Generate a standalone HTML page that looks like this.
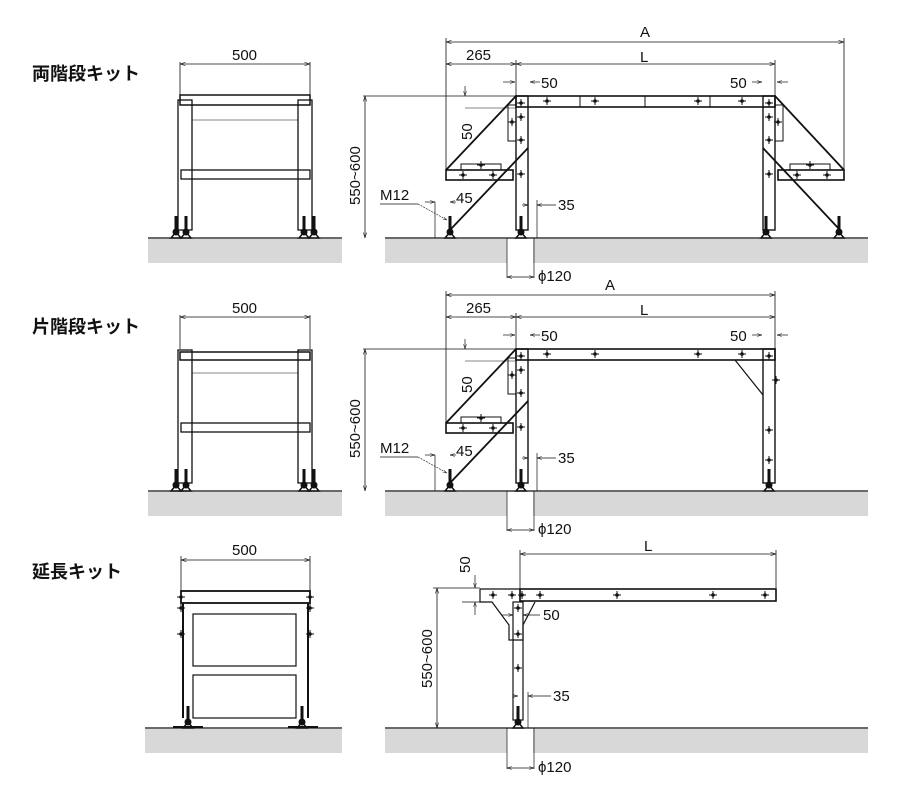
<!DOCTYPE html>
<html><head><meta charset="utf-8"><style>
body{margin:0;background:#fff}
svg{display:block}
text{font-family:"Liberation Sans","Noto Sans CJK JP",sans-serif;font-size:15px;fill:#111}
.j{font-size:18px;font-weight:bold}
</style></head><body>
<svg width="900" height="800" viewBox="0 0 900 800" xmlns="http://www.w3.org/2000/svg">
<defs>
<marker id="a" viewBox="0 0 10 10" refX="10" refY="5" markerWidth="7" markerHeight="7" orient="auto-start-reverse"><path d="M0,2 L10,5 L0,8" fill="none" stroke="#111" stroke-width="1"/></marker>
<g id="foot"><line x1="0" y1="-22" x2="0" y2="-5" stroke="#111" stroke-width="3"/><path d="M-5,0 L0,-6 L5,0 Z" fill="none" stroke="#111" stroke-width="1.5"/><circle cx="0" cy="-6" r="3" fill="#111"/></g>
<g id="bolt"><line x1="-4" y1="0" x2="4" y2="0" stroke="#111"/><line x1="0" y1="-4" x2="0" y2="4" stroke="#111"/><circle r="1.8" fill="#111"/></g>
</defs>
<g stroke="#111" fill="none">

<!-- ===== Section 1 ===== -->
<text class="j" x="32" y="80" stroke="none">両階段キット</text>
<rect x="148" y="239" width="194" height="24" fill="#d8d8d8" stroke="none"/>
<rect x="385" y="239" width="483" height="24" fill="#d8d8d8" stroke="none"/>
<rect x="507" y="239" width="26" height="24" fill="#fff" stroke="none"/>
<line x1="148" y1="238" x2="342" y2="238" stroke-width="1.3"/>
<line x1="385" y1="238" x2="868" y2="238" stroke-width="1.3"/>
<!-- left view -->
<line x1="180" y1="62" x2="180" y2="96" stroke-width=".8"/><line x1="310" y1="62" x2="310" y2="96" stroke-width=".8"/>
<line x1="180" y1="64" x2="310" y2="64" stroke-width=".8" marker-start="url(#a)" marker-end="url(#a)"/>
<text x="232" y="60" stroke="none">500</text>
<rect x="180" y="95" width="130" height="10" stroke-width="1.5"/>
<rect x="178" y="100" width="14" height="130" stroke-width="1.3"/>
<rect x="298" y="100" width="14" height="130" stroke-width="1.3"/>
<rect x="181" y="170" width="129" height="9" stroke-width="1.3"/>
<line x1="192" y1="120" x2="298" y2="120" stroke-width=".6"/>
<use href="#foot" x="176" y="238"/><use href="#foot" x="186" y="238"/><use href="#foot" x="304" y="238"/><use href="#foot" x="314" y="238"/>
<!-- right view -->
<line x1="446" y1="38" x2="446" y2="170" stroke-width=".8"/><line x1="844" y1="38" x2="844" y2="170" stroke-width=".8"/>
<line x1="446" y1="42" x2="844" y2="42" stroke-width=".8" marker-start="url(#a)" marker-end="url(#a)"/>
<text x="640" y="37" stroke="none">A</text>
<line x1="516" y1="60" x2="516" y2="96" stroke-width=".8"/><line x1="775" y1="60" x2="775" y2="96" stroke-width=".8"/>
<line x1="446" y1="64" x2="516" y2="64" stroke-width=".8" marker-start="url(#a)" marker-end="url(#a)"/>
<line x1="516" y1="64" x2="775" y2="64" stroke-width=".8" marker-start="url(#a)" marker-end="url(#a)"/>
<text x="466" y="60" stroke="none">265</text><text x="640" y="62" stroke="none">L</text>
<text x="541" y="88" stroke="none">50</text><text x="730" y="88" stroke="none">50</text>
<line x1="503" y1="82" x2="515" y2="82" stroke-width=".7" marker-end="url(#a)"/><line x1="540" y1="82" x2="530" y2="82" stroke-width=".7" marker-end="url(#a)"/>
<line x1="752" y1="82" x2="762" y2="82" stroke-width=".7" marker-end="url(#a)"/><line x1="788" y1="82" x2="777" y2="82" stroke-width=".7" marker-end="url(#a)"/>
<line x1="363" y1="96" x2="516" y2="96" stroke-width=".8"/>
<line x1="365" y1="96" x2="365" y2="238" stroke-width=".8" marker-start="url(#a)" marker-end="url(#a)"/>
<text transform="translate(360,205) rotate(-90)" stroke="none">550~600</text>
<line x1="465" y1="108" x2="516" y2="108" stroke-width=".6"/>
<line x1="465" y1="86" x2="465" y2="96" stroke-width=".7" marker-end="url(#a)"/>
<text transform="translate(472,140) rotate(-90)" stroke="none">50</text>
<rect x="516" y="96" width="259" height="11" stroke-width="1.6"/>
<line x1="580" y1="96" x2="580" y2="107"/><line x1="645" y1="96" x2="645" y2="107"/><line x1="710" y1="96" x2="710" y2="107"/>
<rect x="516" y="96" width="12" height="134" stroke-width="1.4"/>
<rect x="763" y="96" width="12" height="134" stroke-width="1.4"/>
<rect x="508" y="105" width="8" height="36" stroke-width="1"/><rect x="775" y="105" width="8" height="36" stroke-width="1"/>
<line x1="446" y1="170" x2="516" y2="96" stroke-width="1.8"/><line x1="775" y1="96" x2="844" y2="170" stroke-width="1.8"/>
<rect x="446" y="170" width="67" height="10" stroke-width="1.6"/><rect x="778" y="170" width="66" height="10" stroke-width="1.6"/>
<rect x="461" y="164" width="40" height="6" stroke-width="1"/><rect x="790" y="164" width="40" height="6" stroke-width="1"/>
<line x1="450" y1="230" x2="528" y2="148" stroke-width="1.8"/><line x1="763" y1="148" x2="840" y2="230" stroke-width="1.8"/>
<use href="#foot" x="450" y="238"/><use href="#foot" x="521" y="238"/><use href="#foot" x="766" y="238"/><use href="#foot" x="839" y="238"/>
<text x="380" y="200" stroke="none">M12</text><line x1="380" y1="204" x2="418" y2="204" stroke-width=".7"/><line x1="418" y1="204" x2="447" y2="220" stroke-width=".6" stroke-dasharray="2 1" marker-end="url(#a)"/>
<text x="456" y="203" stroke="none">45</text>
<line x1="435" y1="202" x2="435" y2="238" stroke-width=".7"/>
<line x1="425" y1="202" x2="435" y2="202" stroke-width=".7" marker-end="url(#a)"/><line x1="456" y1="202" x2="450" y2="202" stroke-width=".7" marker-end="url(#a)"/>
<line x1="537" y1="200" x2="537" y2="238" stroke-width=".7"/>
<line x1="522" y1="205" x2="528" y2="205" stroke-width=".7" marker-end="url(#a)"/><line x1="556" y1="205" x2="537" y2="205" stroke-width=".7" marker-end="url(#a)"/>
<text x="558" y="210" stroke="none">35</text>
<line x1="507" y1="238" x2="507" y2="278" stroke-width=".7"/><line x1="534" y1="238" x2="534" y2="278" stroke-width=".7"/>
<line x1="507" y1="277" x2="534" y2="277" stroke-width=".7" marker-start="url(#a)" marker-end="url(#a)"/>
<text x="538" y="281" stroke="none">ϕ120</text>
<g stroke="none"><use href="#bolt" x="521" y="103"/><use href="#bolt" x="521" y="117"/><use href="#bolt" x="521" y="140"/><use href="#bolt" x="521" y="174"/><use href="#bolt" x="769" y="103"/><use href="#bolt" x="769" y="117"/><use href="#bolt" x="769" y="140"/><use href="#bolt" x="769" y="174"/><use href="#bolt" x="512" y="122"/><use href="#bolt" x="778" y="122"/><use href="#bolt" x="481" y="165"/><use href="#bolt" x="810" y="165"/><use href="#bolt" x="463" y="175"/><use href="#bolt" x="493" y="175"/><use href="#bolt" x="797" y="175"/><use href="#bolt" x="827" y="175"/><use href="#bolt" x="547" y="101"/><use href="#bolt" x="595" y="101"/><use href="#bolt" x="698" y="101"/><use href="#bolt" x="742" y="101"/></g>

<!-- ===== Section 2 ===== -->
<text class="j" x="32" y="333" stroke="none">片階段キット</text>
<rect x="148" y="492" width="194" height="24" fill="#d8d8d8" stroke="none"/>
<rect x="385" y="492" width="483" height="24" fill="#d8d8d8" stroke="none"/>
<rect x="507" y="492" width="26" height="24" fill="#fff" stroke="none"/>
<line x1="148" y1="491" x2="342" y2="491" stroke-width="1.3"/>
<line x1="385" y1="491" x2="868" y2="491" stroke-width="1.3"/>
<line x1="180" y1="315" x2="180" y2="349" stroke-width=".8"/><line x1="310" y1="315" x2="310" y2="349" stroke-width=".8"/>
<line x1="180" y1="317" x2="310" y2="317" stroke-width=".8" marker-start="url(#a)" marker-end="url(#a)"/>
<text x="232" y="313" stroke="none">500</text>
<rect x="180" y="352" width="130" height="8" stroke-width="1.5"/>
<rect x="178" y="350" width="14" height="133" stroke-width="1.3"/>
<rect x="298" y="350" width="14" height="133" stroke-width="1.3"/>
<rect x="181" y="423" width="129" height="9" stroke-width="1.3"/>
<line x1="192" y1="373" x2="298" y2="373" stroke-width=".6"/>
<use href="#foot" x="176" y="491"/><use href="#foot" x="186" y="491"/><use href="#foot" x="304" y="491"/><use href="#foot" x="314" y="491"/>
<line x1="446" y1="291" x2="446" y2="423" stroke-width=".8"/><line x1="775" y1="291" x2="775" y2="349" stroke-width=".8"/>
<line x1="446" y1="295" x2="775" y2="295" stroke-width=".8" marker-start="url(#a)" marker-end="url(#a)"/>
<text x="605" y="290" stroke="none">A</text>
<line x1="516" y1="313" x2="516" y2="349" stroke-width=".8"/>
<line x1="446" y1="317" x2="516" y2="317" stroke-width=".8" marker-start="url(#a)" marker-end="url(#a)"/>
<line x1="516" y1="317" x2="775" y2="317" stroke-width=".8" marker-start="url(#a)" marker-end="url(#a)"/>
<text x="466" y="313" stroke="none">265</text><text x="640" y="315" stroke="none">L</text>
<text x="541" y="341" stroke="none">50</text><text x="730" y="341" stroke="none">50</text>
<line x1="503" y1="335" x2="515" y2="335" stroke-width=".7" marker-end="url(#a)"/><line x1="540" y1="335" x2="530" y2="335" stroke-width=".7" marker-end="url(#a)"/>
<line x1="752" y1="335" x2="762" y2="335" stroke-width=".7" marker-end="url(#a)"/><line x1="788" y1="335" x2="777" y2="335" stroke-width=".7" marker-end="url(#a)"/>
<line x1="363" y1="349" x2="516" y2="349" stroke-width=".8"/>
<line x1="365" y1="349" x2="365" y2="491" stroke-width=".8" marker-start="url(#a)" marker-end="url(#a)"/>
<text transform="translate(360,458) rotate(-90)" stroke="none">550~600</text>
<line x1="465" y1="361" x2="516" y2="361" stroke-width=".6"/>
<line x1="465" y1="339" x2="465" y2="349" stroke-width=".7" marker-end="url(#a)"/>
<text transform="translate(472,393) rotate(-90)" stroke="none">50</text>
<rect x="516" y="349" width="259" height="11" stroke-width="1.6"/>
<rect x="516" y="349" width="12" height="134" stroke-width="1.4"/>
<rect x="763" y="349" width="12" height="134" stroke-width="1.4"/>
<line x1="735" y1="360" x2="763" y2="395" stroke-width="1.2"/>
<rect x="508" y="358" width="8" height="36" stroke-width="1"/>
<line x1="446" y1="423" x2="516" y2="349" stroke-width="1.8"/>
<rect x="446" y="423" width="67" height="10" stroke-width="1.6"/>
<rect x="461" y="417" width="40" height="6" stroke-width="1"/>
<line x1="450" y1="483" x2="528" y2="401" stroke-width="1.8"/>
<use href="#foot" x="450" y="491"/><use href="#foot" x="521" y="491"/><use href="#foot" x="769" y="491"/>
<text x="380" y="453" stroke="none">M12</text><line x1="380" y1="457" x2="418" y2="457" stroke-width=".7"/><line x1="418" y1="457" x2="447" y2="473" stroke-width=".6" stroke-dasharray="2 1" marker-end="url(#a)"/>
<text x="456" y="456" stroke="none">45</text>
<line x1="435" y1="455" x2="435" y2="491" stroke-width=".7"/>
<line x1="425" y1="455" x2="435" y2="455" stroke-width=".7" marker-end="url(#a)"/><line x1="456" y1="455" x2="450" y2="455" stroke-width=".7" marker-end="url(#a)"/>
<line x1="537" y1="453" x2="537" y2="491" stroke-width=".7"/>
<line x1="522" y1="458" x2="528" y2="458" stroke-width=".7" marker-end="url(#a)"/><line x1="556" y1="458" x2="537" y2="458" stroke-width=".7" marker-end="url(#a)"/>
<text x="558" y="463" stroke="none">35</text>
<line x1="507" y1="491" x2="507" y2="531" stroke-width=".7"/><line x1="534" y1="491" x2="534" y2="531" stroke-width=".7"/>
<line x1="507" y1="530" x2="534" y2="530" stroke-width=".7" marker-start="url(#a)" marker-end="url(#a)"/>
<text x="538" y="534" stroke="none">ϕ120</text>
<g stroke="none"><use href="#bolt" x="521" y="356"/><use href="#bolt" x="521" y="370"/><use href="#bolt" x="521" y="393"/><use href="#bolt" x="521" y="427"/><use href="#bolt" x="769" y="356"/><use href="#bolt" x="769" y="430"/><use href="#bolt" x="769" y="460"/><use href="#bolt" x="512" y="375"/><use href="#bolt" x="481" y="418"/><use href="#bolt" x="463" y="428"/><use href="#bolt" x="493" y="428"/><use href="#bolt" x="547" y="354"/><use href="#bolt" x="595" y="354"/><use href="#bolt" x="698" y="354"/><use href="#bolt" x="742" y="354"/><use href="#bolt" x="776" y="380"/></g>

<!-- ===== Section 3 ===== -->
<text class="j" x="32" y="578" stroke="none">延長キット</text>
<rect x="145" y="729" width="197" height="24" fill="#d8d8d8" stroke="none"/>
<rect x="385" y="729" width="483" height="24" fill="#d8d8d8" stroke="none"/>
<rect x="507" y="729" width="26" height="24" fill="#fff" stroke="none"/>
<line x1="145" y1="728" x2="342" y2="728" stroke-width="1.3"/>
<line x1="385" y1="728" x2="868" y2="728" stroke-width="1.3"/>
<line x1="181" y1="556" x2="181" y2="591" stroke-width=".8"/><line x1="310" y1="556" x2="310" y2="591" stroke-width=".8"/>
<line x1="181" y1="560" x2="310" y2="560" stroke-width=".8" marker-start="url(#a)" marker-end="url(#a)"/>
<text x="232" y="555" stroke="none">500</text>
<rect x="181" y="591" width="129" height="12" stroke-width="1.8"/>
<line x1="183" y1="603" x2="183" y2="718" stroke-width="2"/><line x1="308" y1="603" x2="308" y2="718" stroke-width="2"/>
<rect x="193" y="614" width="103" height="52" stroke-width="1.2"/>
<rect x="193" y="675" width="103" height="43" stroke-width="1.2"/>
<use href="#foot" x="188" y="728"/><use href="#foot" x="302" y="728"/>
<line x1="173" y1="727" x2="203" y2="727" stroke-width="2"/><line x1="288" y1="727" x2="318" y2="727" stroke-width="2"/>
<g stroke="none"><use href="#bolt" x="181" y="597"/><use href="#bolt" x="310" y="597"/><use href="#bolt" x="181" y="608"/><use href="#bolt" x="310" y="608"/><use href="#bolt" x="181" y="634"/><use href="#bolt" x="310" y="634"/></g>
<line x1="520" y1="550" x2="520" y2="588" stroke-width=".8"/><line x1="776" y1="550" x2="776" y2="588" stroke-width=".8"/>
<line x1="520" y1="554" x2="776" y2="554" stroke-width=".8" marker-start="url(#a)" marker-end="url(#a)"/>
<text x="644" y="551" stroke="none">L</text>
<rect x="520" y="589" width="256" height="12" stroke-width="1.6"/>
<path d="M480,589 L520,589 L520,602 M480,589 L480,602 L492,602 L509,625 L509,640 L523,640 L523,625 L535,602" stroke-width="1.2"/>
<rect x="513" y="602" width="10" height="118" stroke-width="1.2"/>
<line x1="433" y1="588" x2="480" y2="588" stroke-width=".8"/>
<line x1="437" y1="588" x2="437" y2="728" stroke-width=".8" marker-start="url(#a)" marker-end="url(#a)"/>
<text transform="translate(432,688) rotate(-90)" stroke="none">550~600</text>
<line x1="462" y1="602" x2="480" y2="602" stroke-width=".7"/>
<line x1="475" y1="575" x2="475" y2="588" stroke-width=".7" marker-end="url(#a)"/>
<line x1="475" y1="615" x2="475" y2="602" stroke-width=".7" marker-end="url(#a)"/>
<text transform="translate(470,573) rotate(-90)" stroke="none">50</text>
<text x="543" y="620" stroke="none">50</text>
<line x1="502" y1="615" x2="513" y2="615" stroke-width=".7" marker-end="url(#a)"/><line x1="540" y1="615" x2="523" y2="615" stroke-width=".7" marker-end="url(#a)"/>
<use href="#foot" x="518" y="728"/>
<line x1="528" y1="692" x2="528" y2="728" stroke-width=".7"/>
<line x1="513" y1="696" x2="518" y2="696" stroke-width=".7" marker-end="url(#a)"/><line x1="551" y1="696" x2="528" y2="696" stroke-width=".7" marker-end="url(#a)"/>
<text x="553" y="701" stroke="none">35</text>
<line x1="507" y1="728" x2="507" y2="769" stroke-width=".7"/><line x1="534" y1="728" x2="534" y2="769" stroke-width=".7"/>
<line x1="507" y1="768" x2="534" y2="768" stroke-width=".7" marker-start="url(#a)" marker-end="url(#a)"/>
<text x="538" y="772" stroke="none">ϕ120</text>
<g stroke="none"><use href="#bolt" x="493" y="595"/><use href="#bolt" x="512" y="595"/><use href="#bolt" x="522" y="595"/><use href="#bolt" x="540" y="595"/><use href="#bolt" x="617" y="595"/><use href="#bolt" x="713" y="595"/><use href="#bolt" x="765" y="595"/><use href="#bolt" x="518" y="608"/><use href="#bolt" x="518" y="634"/><use href="#bolt" x="518" y="668"/></g>
</g>
</svg>
</body></html>
